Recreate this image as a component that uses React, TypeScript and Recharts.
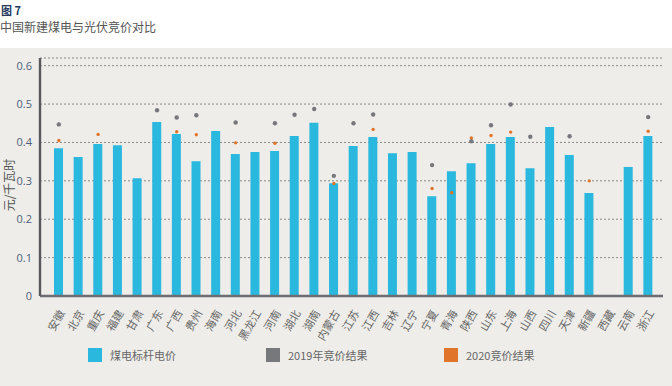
import { ComposedChart, Bar, Line, XAxis, YAxis, CartesianGrid } from "recharts";

const provinces = [
  "安徽", "北京", "重庆", "福建", "甘肃", "广东", "广西", "贵州", "海南", "河北",
  "黑龙江", "河南", "湖北", "湖南", "内蒙古", "江苏", "江西", "吉林", "辽宁", "宁夏",
  "青海", "陕西", "山东", "上海", "山西", "四川", "天津", "新疆", "西藏", "云南", "浙江",
];

const coalBenchmark = [
  0.385, 0.362, 0.396, 0.393, 0.307, 0.453, 0.422, 0.351, 0.430, 0.370,
  0.375, 0.378, 0.417, 0.451, 0.294, 0.391, 0.414, 0.372, 0.375, 0.260,
  0.325, 0.346, 0.396, 0.414, 0.333, 0.440, 0.367, 0.268, null, 0.336, 0.417,
];

const bid2019 = [
  0.447, null, null, null, null, 0.484, 0.465, 0.471, null, 0.452,
  null, 0.450, 0.472, 0.487, 0.313, 0.450, 0.473, null, null, 0.341,
  null, 0.403, 0.445, 0.499, 0.415, null, 0.416, null, null, null, 0.466,
];

const bid2020 = [
  0.405, null, 0.421, null, null, null, 0.428, 0.420, null, 0.399,
  null, 0.398, null, null, 0.293, null, 0.434, null, null, 0.280,
  0.269, 0.412, 0.418, 0.427, null, null, null, 0.300, null, null, 0.429,
];

const yTicks = [0, 0.1, 0.2, 0.3, 0.4, 0.5, 0.6];

const legendItems = [
  { label: "煤电标杆电价", color: "#2bb8de", left: 88 },
  { label: "2019年竞价结果", color: "#77787b", left: 266 },
  { label: "2020竞价结果", color: "#e07428", left: 444 },
];

const FONT = "'Noto Sans CJK SC', 'Noto Sans', sans-serif";

const data = provinces.map((name, i) => ({
  name,
  coal: coalBenchmark[i],
  y2019: bid2019[i],
  y2020: bid2020[i],
}));

function ProvinceTick({ x, y, payload }: any) {
  return (
    <g transform={`translate(${x + 3},${y + 7})`}>
      <text
        transform="rotate(-60)"
        textAnchor="end"
        dy="0.35em"
        fontSize={11}
        fill="#666"
        fontFamily={FONT}
      >
        {payload.value}
      </text>
    </g>
  );
}

export default function App() {
  return (
    <div
      style={{
        position: "fixed",
        left: 0,
        top: 0,
        width: 672,
        height: 386,
        background: "#fff",
        fontFamily: FONT,
        overflow: "hidden",
      }}
    >
      <div style={{ position: "absolute", left: 0, top: 48, width: 672, height: 338, background: "#eeede9" }} />
      <div style={{ position: "absolute", left: 1, top: 2, fontSize: 11, fontWeight: 700, color: "#243a5e" }}>
        图 7
      </div>
      <div style={{ position: "absolute", left: 0, top: 18, fontSize: 12, color: "#555" }}>
        中国新建煤电与光伏竞价对比
      </div>
      <div
        style={{
          position: "absolute",
          left: 8,
          top: 185,
          transform: "translate(-50%, -50%) rotate(-90deg)",
          fontSize: 12,
          color: "#555",
          whiteSpace: "nowrap",
        }}
      >
        元/千瓦时
      </div>

      <div style={{ position: "absolute", left: 0, top: 0 }}>
        <ComposedChart
          width={672}
          height={386}
          data={data}
          margin={{ top: 58, right: 9, left: 0, bottom: 30 }}
          barCategoryGap={0}
        >
          <CartesianGrid vertical={false} stroke="#888" strokeDasharray="2 2" />
          <XAxis
            dataKey="name"
            interval={0}
            height={60}
            tickLine={false}
            axisLine={{ stroke: "#6d6e71", strokeWidth: 2.6 }}
            tick={<ProvinceTick />}
            padding={{ left: 9, right: 5 }}
          />
          <YAxis
            width={40}
            domain={[0, 0.62]}
            ticks={yTicks}
            tickLine={false}
            axisLine={{ stroke: "#58595b", strokeWidth: 2.4 }}
            tick={{ fontSize: 11, fill: "#4f5f7a", fontFamily: "'Open Sans', sans-serif" }}
            tickFormatter={(v: number) => (v === 0 ? "0" : String(v))}
          />
          <Bar dataKey="coal" fill="#2bb8de" barSize={9} isAnimationActive={false} />
          <Line
            dataKey="y2019"
            stroke="none"
            dot={{ r: 2.2, fill: "#77787b", stroke: "none" }}
            activeDot={false}
            isAnimationActive={false}
          />
          <Line
            dataKey="y2020"
            stroke="none"
            dot={{ r: 1.7, fill: "#e07428", stroke: "none" }}
            activeDot={false}
            isAnimationActive={false}
          />
        </ComposedChart>
      </div>

      {legendItems.map((item) => (
        <div key={item.label} style={{ position: "absolute", left: item.left, top: 348, display: "flex", alignItems: "center" }}>
          <span style={{ width: 14, height: 14, background: item.color, display: "inline-block" }} />
          <span style={{ marginLeft: 8, fontSize: 11, color: "#666", lineHeight: "14px" }}>{item.label}</span>
        </div>
      ))}
    </div>
  );
}
